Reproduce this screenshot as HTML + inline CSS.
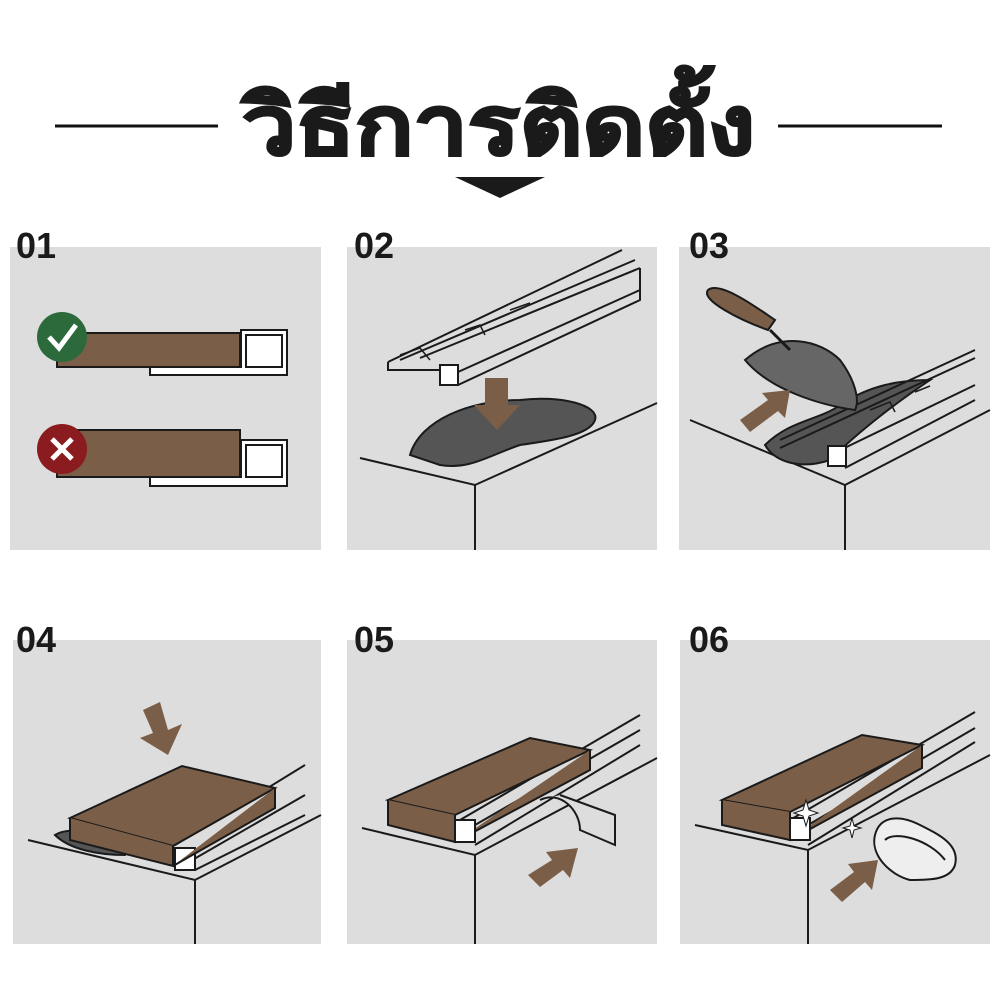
<!DOCTYPE html>
<html><head><meta charset="utf-8"><style>
html,body{margin:0;padding:0;background:#fff;width:1000px;height:1000px;overflow:hidden}
svg{display:block}
text{font-family:"Liberation Sans","Noto Sans CJK SC",sans-serif}
</style></head><body>
<svg width="1000" height="1000" viewBox="0 0 1000 1000" xmlns="http://www.w3.org/2000/svg">
<rect width="1000" height="1000" fill="#fff"/>
<line x1="55" y1="126" x2="218" y2="126" stroke="#111" stroke-width="3"/>
<line x1="778" y1="126" x2="942" y2="126" stroke="#111" stroke-width="3"/>
<text x="242" y="154" font-size="82" font-weight="bold" fill="#1a1a1a" stroke="#1a1a1a" stroke-width="2.5" textLength="513" lengthAdjust="spacingAndGlyphs">วิธีการติดตั้ง</text>
<polygon points="455,177 545,177 500,198" fill="#1a1a1a"/>

<g fill="#dedddd">
<rect x="10" y="247" width="311" height="303"/>
<rect x="347" y="247" width="310" height="303"/>
<rect x="679" y="247" width="311" height="303"/>
<rect x="13" y="640" width="308" height="304"/>
<rect x="347" y="640" width="310" height="304"/>
<rect x="680" y="640" width="310" height="304"/>
</g>
<g font-size="36" font-weight="bold" fill="#1a1a1a">
<text x="16" y="258">01</text><text x="354" y="258">02</text><text x="689" y="258">03</text>
<text x="16" y="652">04</text><text x="354" y="652">05</text><text x="689" y="652">06</text>
</g>

<g stroke="#1a1a1a" stroke-width="2" fill="none">
<rect x="57" y="333" width="183" height="34" fill="#7b5e47"/>
<path d="M150,367 L150,375 L287,375 L287,330 L241,330 L241,367 Z" fill="#fff"/>
<rect x="246" y="335" width="36" height="32" fill="#fff"/>
<rect x="57" y="430" width="183" height="47" fill="#7b5e47"/>
<path d="M150,477 L150,486 L287,486 L287,440 L241,440 L241,477 Z" fill="#fff"/>
<rect x="246" y="445" width="36" height="32" fill="#fff"/>
</g>
<circle cx="62" cy="337" r="25" fill="#2d6a3b"/>
<path d="M49,337 L59,348 L76,325" stroke="#fff" stroke-width="5" fill="none"/>
<circle cx="62" cy="449" r="25" fill="#8a1b1e"/>
<path d="M52,439 L72,459 M72,439 L52,459" stroke="#fff" stroke-width="5"/>

<g stroke="#1a1a1a" stroke-width="2" fill="none">
<path d="M360,458 L475,485 L657,403"/>
<path d="M475,485 L475,550"/>
<path d="M410,455 C420,420 470,400 520,400 C560,395 600,405 595,420 C590,435 555,440 520,445 C490,455 470,470 440,465 Z" fill="#555"/>
<path d="M388,362 L622,250 M388,362 L388,370 L440,370 M400,360 L635,260 M420,358 L640,268 M458,372 L640,290 M458,385 L640,300 L640,268"/>
<path d="M400,355 L420,348 L430,360 M465,330 L480,325 L485,335 M510,310 L530,303" stroke-width="1.5"/>
<rect x="440" y="365" width="18" height="20" fill="#fff"/>
</g>
<polygon points="485,378 508,378 508,405 520,405 497,430 474,405 485,405" fill="#7b5e47"/>

<g stroke="#1a1a1a" stroke-width="2" fill="none">
<path d="M690,420 L845,485 L990,410"/>
<path d="M845,485 L845,550"/>
<path d="M765,445 C790,420 820,420 840,405 C870,385 900,380 930,380 C900,400 860,430 830,460 C800,470 775,462 765,445 Z" fill="#555"/>
<path d="M780,440 L975,350 M780,448 L975,358 M830,455 L975,385 M845,468 L975,400" />
<path d="M870,410 L890,402 L895,412 M915,392 L930,386" stroke-width="1.5"/>
<rect x="828" y="446" width="18" height="20" fill="#fff"/>
<path d="M745,360 C780,330 820,340 840,360 C855,380 860,400 855,410 C820,405 770,390 745,360 Z" fill="#666"/>
<path d="M770,330 L790,350" stroke-width="3"/>
<path d="M708,290 C720,280 760,310 775,320 L768,330 C740,320 700,300 708,290 Z" fill="#7b5e47"/>
</g>
<polygon points="740,420 768,400 762,393 790,390 785,418 778,411 750,432" fill="#7b5e47"/>

<g stroke="#1a1a1a" stroke-width="2" fill="none">
<path d="M28,840 L195,880 L321,815"/>
<path d="M195,880 L195,944"/>
<path d="M55,835 C70,825 110,835 130,845 L125,855 C100,855 70,850 55,835 Z" fill="#555"/>
<path d="M175,845 L305,765 M175,870 L305,795 M195,870 L305,815" />
<rect x="175" y="848" width="20" height="22" fill="#fff"/>
<path d="M70,818 L182,766 L275,788 L173,846 Z" fill="#7b5e47"/>
<path d="M70,818 L70,840 L173,866 L173,846" fill="#7b5e47"/>
<path d="M173,866 L275,808 L275,788" fill="#7b5e47"/>
</g>
<polygon points="143,710 160,702 168,730 182,724 168,755 140,738 153,733" fill="#7b5e47"/>

<g stroke="#1a1a1a" stroke-width="2" fill="none">
<path d="M362,828 L475,855 L657,758"/>
<path d="M475,855 L475,944"/>
<path d="M460,820 L640,715 M475,845 L640,745 M475,825 L640,730"/>
<path d="M388,800 L530,738 L590,750 L455,815 Z" fill="#7b5e47"/>
<path d="M388,800 L388,825 L455,842 L455,815" fill="#7b5e47"/>
<path d="M455,842 L590,770 L590,750" fill="#7b5e47"/>
<rect x="455" y="820" width="20" height="22" fill="#fff"/>
<path d="M540,800 C560,790 580,810 580,830 L615,845 L615,815 L560,795" fill="#ddd"/>
</g>
<polygon points="528,875 552,860 546,852 578,848 570,878 563,870 540,887" fill="#7b5e47"/>

<g stroke="#1a1a1a" stroke-width="2" fill="none">
<path d="M695,825 L808,850 L990,755"/>
<path d="M808,850 L808,944"/>
<path d="M790,820 L975,712 M808,845 L975,742 M808,825 L975,728"/>
<path d="M722,800 L862,735 L922,745 L790,812 Z" fill="#7b5e47"/>
<path d="M722,800 L722,825 L790,840 L790,812" fill="#7b5e47"/>
<path d="M790,840 L922,768 L922,745" fill="#7b5e47"/>
<rect x="790" y="818" width="20" height="22" fill="#fff"/>
<path d="M875,835 C880,815 900,815 920,825 C940,835 960,845 955,865 C950,880 930,880 910,880 C890,875 870,855 875,835 Z" fill="#eee"/>
<path d="M885,840 C895,830 930,840 945,860" />
</g>
<path d="M806,800 L809,810 L818,813 L809,816 L806,826 L803,816 L794,813 L803,810 Z M852,818 L854,826 L861,828 L854,830 L852,838 L850,830 L843,828 L850,826 Z" fill="#fff" stroke="#1a1a1a" stroke-width="1"/>
<polygon points="830,890 854,872 848,864 878,860 872,890 865,882 842,902" fill="#7b5e47"/>
</svg>
</body></html>
